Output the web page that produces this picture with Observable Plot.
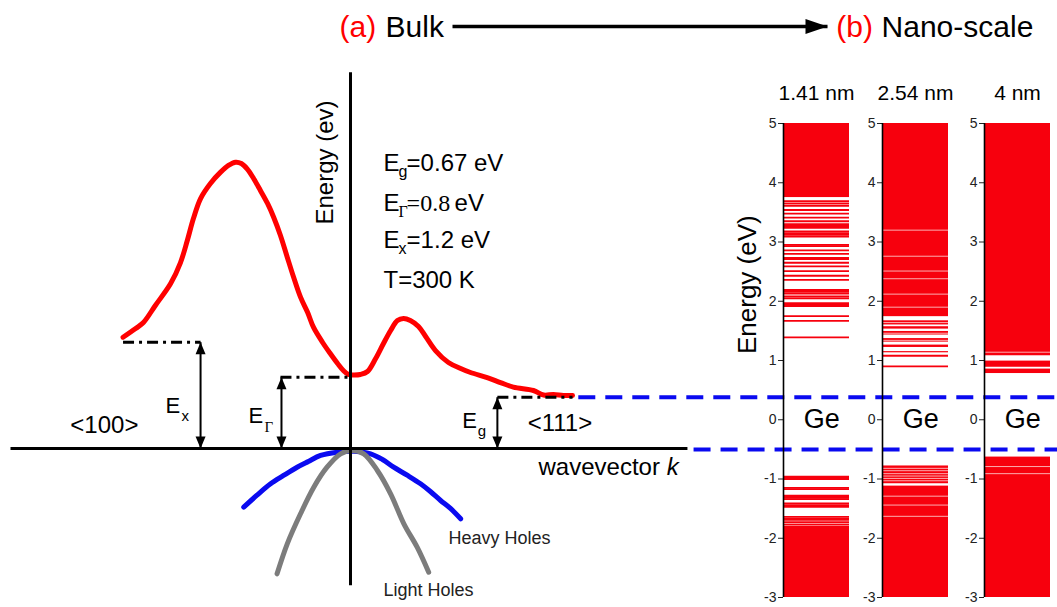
<!DOCTYPE html>
<html><head><meta charset="utf-8">
<script src="https://cdn.jsdelivr.net/npm/d3@7"></script>
<script src="https://cdn.jsdelivr.net/npm/@observablehq/plot@0.6"></script>
<style>
html,body{margin:0;padding:0;background:#fff;}
#wrap{position:relative;width:1057px;height:607px;overflow:hidden;background:#fff;}
#wrap > svg{position:absolute;top:0;}
#wrap svg g[aria-label^="y-axis tick label"],
#wrap svg g[aria-label^="y-axis tick label"] text,
#wrap svg g[aria-label="y-axis"] text{font-size:14px !important;fill:#222;}
</style></head><body><div id="wrap"></div>
<script>
// ---------- (a) Bulk: schematic band diagram, k (normalised) vs E (diagram units) ----------
const conductionBand = [[-0.669,1.464],[-0.632,1.579],[-0.609,1.658],[-0.574,1.882],[-0.529,2.171],[-0.500,2.447],[-0.480,2.737],[-0.462,3.026],[-0.441,3.289],[-0.412,3.487],[-0.382,3.636],[-0.359,3.724],[-0.338,3.767],[-0.321,3.750],[-0.304,3.680],[-0.285,3.553],[-0.265,3.395],[-0.244,3.224],[-0.226,3.043],[-0.206,2.803],[-0.186,2.517],[-0.168,2.263],[-0.147,1.991],[-0.126,1.789],[-0.109,1.596],[-0.082,1.395],[-0.059,1.246],[-0.038,1.118],[-0.021,1.026],[-0.006,0.974],[0.009,0.967],[0.029,0.974],[0.050,1.013],[0.074,1.184],[0.097,1.382],[0.118,1.553],[0.138,1.684],[0.156,1.711],[0.176,1.684],[0.200,1.605],[0.221,1.474],[0.250,1.289],[0.288,1.132],[0.324,1.053],[0.353,1.000],[0.402,0.934],[0.441,0.868],[0.479,0.807],[0.538,0.763],[0.568,0.704],[0.597,0.711],[0.626,0.697],[0.653,0.697]];
const heavyHoles = [[-0.314,-0.772],[-0.276,-0.618],[-0.235,-0.464],[-0.197,-0.355],[-0.157,-0.246],[-0.124,-0.171],[-0.088,-0.092],[-0.039,-0.049],[0.010,-0.036],[0.059,-0.070],[0.094,-0.145],[0.127,-0.246],[0.168,-0.355],[0.206,-0.464],[0.235,-0.566],[0.265,-0.684],[0.294,-0.789],[0.324,-0.925]];
const lightHoles = [[-0.216,-1.649],[-0.186,-1.254],[-0.147,-0.859],[-0.108,-0.509],[-0.069,-0.246],[-0.029,-0.070],[0.005,-0.026],[0.039,-0.070],[0.079,-0.289],[0.118,-0.596],[0.157,-0.991],[0.196,-1.299],[0.230,-1.628]];
const axisLines = [{k1:0,k2:0,E1:-1.80,E2:4.95},{k1:-1.0,k2:0.991,E1:0,E2:0}];
const bandLevels = [{name:"X",k0:-0.669,k1:-0.441,E:1.399},{name:"Γ",k0:-0.206,k1:0,E:0.938},{name:"g",k0:0.432,k1:0.653,E:0.675}];
const gapArrows = [{name:"X",k:-0.441,E:1.399},{name:"Γ",k:-0.203,E:0.938},{name:"g",k:0.432,E:0.675}];
const blueDashes = [{k1:0.67,k2:2.08,E:0.675},{k1:1.009,k2:2.08,E:-0.013}];
const titleArrow = [{k1:0.30,k2:1.403,E:5.553}];
const titleRed = [{t:"(a)",k:-0.032,E:5.54},{t:"(b)",k:1.429,E:5.54}];
const titleBlack = [{t:"Bulk",k:0.103,E:5.54},{t:"Nano-scale",k:1.562,E:5.54}];
const paramE = [{k:0.097,E:3.75},{k:0.097,E:3.224},{k:0.097,E:2.737}];
const paramSubSans = [{t:"g",k:0.141,E:3.645},{t:"x",k:0.141,E:2.632}];
const paramSubSerif = [{t:"Γ",k:0.141,E:3.118}];
const paramSans = [{t:"=0.67 eV",k:0.165,E:3.75},{t:"eV",k:0.306,E:3.224},{t:"=1.2 eV",k:0.165,E:2.737},{t:"T=300 K",k:0.097,E:2.211}];
const paramSerif = [{t:"=0.8",k:0.165,E:3.224}];
const gapE = [{k:-0.544,E:0.566},{k:-0.300,E:0.434},{k:0.329,E:0.368}];
const gapSubSans = [{t:"x",k:-0.497,E:0.421},{t:"g",k:0.374,E:0.224}];
const gapSubSerif = [{t:"Γ",k:-0.253,E:0.276}];
const directions = [{t:"<100>",k:-0.824,E:0.303},{t:"<111>",k:0.521,E:0.329}];
const kLabel = [{t:"wavevector",k:0.553,E:-0.25}];
const kSymbol = [{t:"k",k:0.93,E:-0.25}];
const holeLabels = [{t:"Heavy Holes",k:0.288,E:-1.184},{t:"Light Holes",k:0.097,E:-1.868}];
const energyAxisTitle = [{t:"Energy (ev)",k:-0.074,E:3.763}];

// ---------- (b) Nano-scale: energy levels (eV) per crystal size ----------
const panelTitles = ["1.41 nm","2.54 nm","4 nm"];
const energyTicks = [-3,-2,-1,0,1,2,3,4,5];
const p1Blocks = [[3.75,5],[-3,-1.80]];
const p1Levels = [3.69,3.65,3.61,3.54,3.48,3.41,3.35,3.30,3.27,3.24,3.18,3.15,3.12,3.09,2.95,2.93,2.86,2.80,2.73,2.71,2.65,2.59,2.51,2.43,2.36,2.19,2.16,2.13,2.08,2.05,1.97,1.95,1.92,1.75,1.67,1.39,-0.96,-0.98,-1.00,-1.15,-1.17,-1.28,-1.30,-1.32,-1.34,-1.41,-1.44,-1.47,-1.64,-1.67,-1.69,-1.73,-1.77];
const p1Gaps = [];
const p2Blocks = [[1.74,5],[1.60,1.67],[1.53,1.57],[1.43,1.49],[1.31,1.37],[1.22,1.26],[1.13,1.15],[-1.08,-0.78],[-3,-1.12]];
const p2Levels = [1.08,0.90];
const p2Gaps = [3.20,2.76,2.51,2.38,2.12,1.90,1.64,1.46,1.34,-0.82,-0.86,-0.91,-0.95,-0.99,-1.03,-1.29,-1.44,-1.63];
const p3Blocks = [[1.08,5],[0.886,0.99],[0.78,0.855],[-3,-0.63]];
const p3Levels = [];
const p3Gaps = [1.14,-0.79,-0.91];

// ---------- drawing ----------
const SANS = "Arial, 'Liberation Sans', sans-serif";
const SERIF = "'Times New Roman', 'Liberation Serif', serif";
const RED = "#ff0000", BAND = "#f7000d", BLUE = "#0a0af0", GRAY = "#7c7c7c";
const upHead = {draw(c){c.moveTo(0,0);c.lineTo(-5,12);c.lineTo(5,12);c.closePath();}};
const downHead = {draw(c){c.moveTo(0,0);c.lineTo(-5,-12);c.lineTo(5,-12);c.closePath();}};
const rightHead = {draw(c){c.moveTo(0,0);c.lineTo(-22,-7.5);c.lineTo(-22,7.5);c.closePath();}};
const txt = (data, o) => Plot.text(data, {x:"k", y:"E", text:"t", textAnchor:"start", fill:"black", ...o});

const left = Plot.plot({
  width:1057, height:607, margin:0,
  x:{domain:[-350/340, 707/340], axis:null},
  y:{domain:[(448-607)/76, 448/76], axis:null},
  style:{background:"transparent", fontFamily:SANS},
  marks:[
    Plot.link(blueDashes, {x1:"k1", x2:"k2", y1:"E", y2:"E", stroke:BLUE, strokeWidth:4, strokeDasharray:"17,10"}),
    Plot.line(heavyHoles, {x:d=>d[0], y:d=>d[1], stroke:BLUE, strokeWidth:5, curve:"catmull-rom", strokeLinecap:"round"}),
    Plot.line(lightHoles, {x:d=>d[0], y:d=>d[1], stroke:GRAY, strokeWidth:5, curve:"catmull-rom", strokeLinecap:"round"}),
    Plot.line(conductionBand, {x:d=>d[0], y:d=>d[1], stroke:RED, strokeWidth:5, curve:"catmull-rom", strokeLinecap:"round"}),
    Plot.link(axisLines, {x1:"k1", x2:"k2", y1:"E1", y2:"E2", stroke:"black", strokeWidth:3}),
    Plot.link(bandLevels, {x1:"k0", x2:"k1", y1:"E", y2:"E", stroke:"black", strokeWidth:3, strokeDasharray:"11,5,3,5"}),
    Plot.link(gapArrows, {x1:"k", x2:"k", y1:0, y2:"E", stroke:"black", strokeWidth:2}),
    Plot.dot(gapArrows, {x:"k", y:"E", symbol:upHead, fill:"black", stroke:"none"}),
    Plot.dot(gapArrows, {x:"k", y:0, symbol:downHead, fill:"black", stroke:"none"}),
    Plot.link(titleArrow, {x1:"k1", x2:"k2", y1:"E", y2:"E", stroke:"black", strokeWidth:3.5}),
    Plot.dot(titleArrow, {x:"k2", y:"E", symbol:rightHead, fill:"black", stroke:"none"}),
    txt(titleRed, {fill:"#ff0000", fontSize:30}),
    txt(titleBlack, {fontSize:30}),
    txt(paramE, {text:()=>"E", fontSize:24}),
    txt(paramSubSans, {fontSize:16}),
    txt(paramSubSerif, {fontSize:16, fontFamily:SERIF}),
    txt(paramSans, {fontSize:24}),
    txt(paramSerif, {fontSize:24, fontFamily:SERIF}),
    txt(gapE, {text:()=>"E", fontSize:22}),
    txt(gapSubSans, {fontSize:15}),
    txt(gapSubSerif, {fontSize:15, fontFamily:SERIF}),
    txt(directions, {fontSize:24}),
    txt(kLabel, {fontSize:24}),
    txt(kSymbol, {fontSize:24, fontStyle:"italic"}),
    txt(holeLabels, {fontSize:18, fill:"#222"}),
    Plot.text(energyAxisTitle, {x:"k", y:"E", text:"t", rotate:-90, fontSize:24, fill:"black"})
  ]
});
left.style.left = "0px";
document.getElementById("wrap").appendChild(left);

function panel(blocks, levels, gaps, title, showLabel, leftPx) {
  const p = Plot.plot({
    width:123, height:607, marginLeft:50, marginRight:7, marginTop:123, marginBottom:10,
    x:{domain:[0,1], axis:null},
    y:{domain:[-3,5], ticks:energyTicks, tickSize:5, tickPadding:2, tickFormat:d=>String(d), label:null},
    style:{background:"transparent", fontFamily:SANS, fontSize:"14px", color:"#222", overflow:"visible"},
    marks:[
      Plot.rect(blocks, {x1:0, x2:1, y1:d=>d[0], y2:d=>d[1], fill:BAND}),
      Plot.ruleY(levels, {y:d=>d, x1:0, x2:1, stroke:BAND, strokeWidth:1.8}),
      Plot.ruleY(gaps, {y:d=>d, x1:0, x2:1, stroke:"white", strokeWidth:0.8, strokeOpacity:0.85}),
      Plot.ruleX([0], {stroke:"black", strokeWidth:1.6}),
      Plot.text([title], {x:0.5, y:5, dy:-30, text:d=>d, fontSize:21, fill:"black"}),
      Plot.text(["Ge"], {x:0.58, y:0, text:d=>d, fontSize:27, fill:"black"}),
      ...(showLabel ? [Plot.text(["Energy (eV)"], {x:0, y:2.28, dx:-36, text:d=>d, rotate:-90, fontSize:26, fill:"black"})] : [])
    ]
  });
  p.style.left = leftPx + "px";
  document.getElementById("wrap").appendChild(p);
}
panel(p1Blocks, p1Levels, p1Gaps, panelTitles[0], true, 733);
panel(p2Blocks, p2Levels, p2Gaps, panelTitles[1], false, 832);
panel(p3Blocks, p3Levels, p3Gaps, panelTitles[2], false, 934);
</script></body></html>
